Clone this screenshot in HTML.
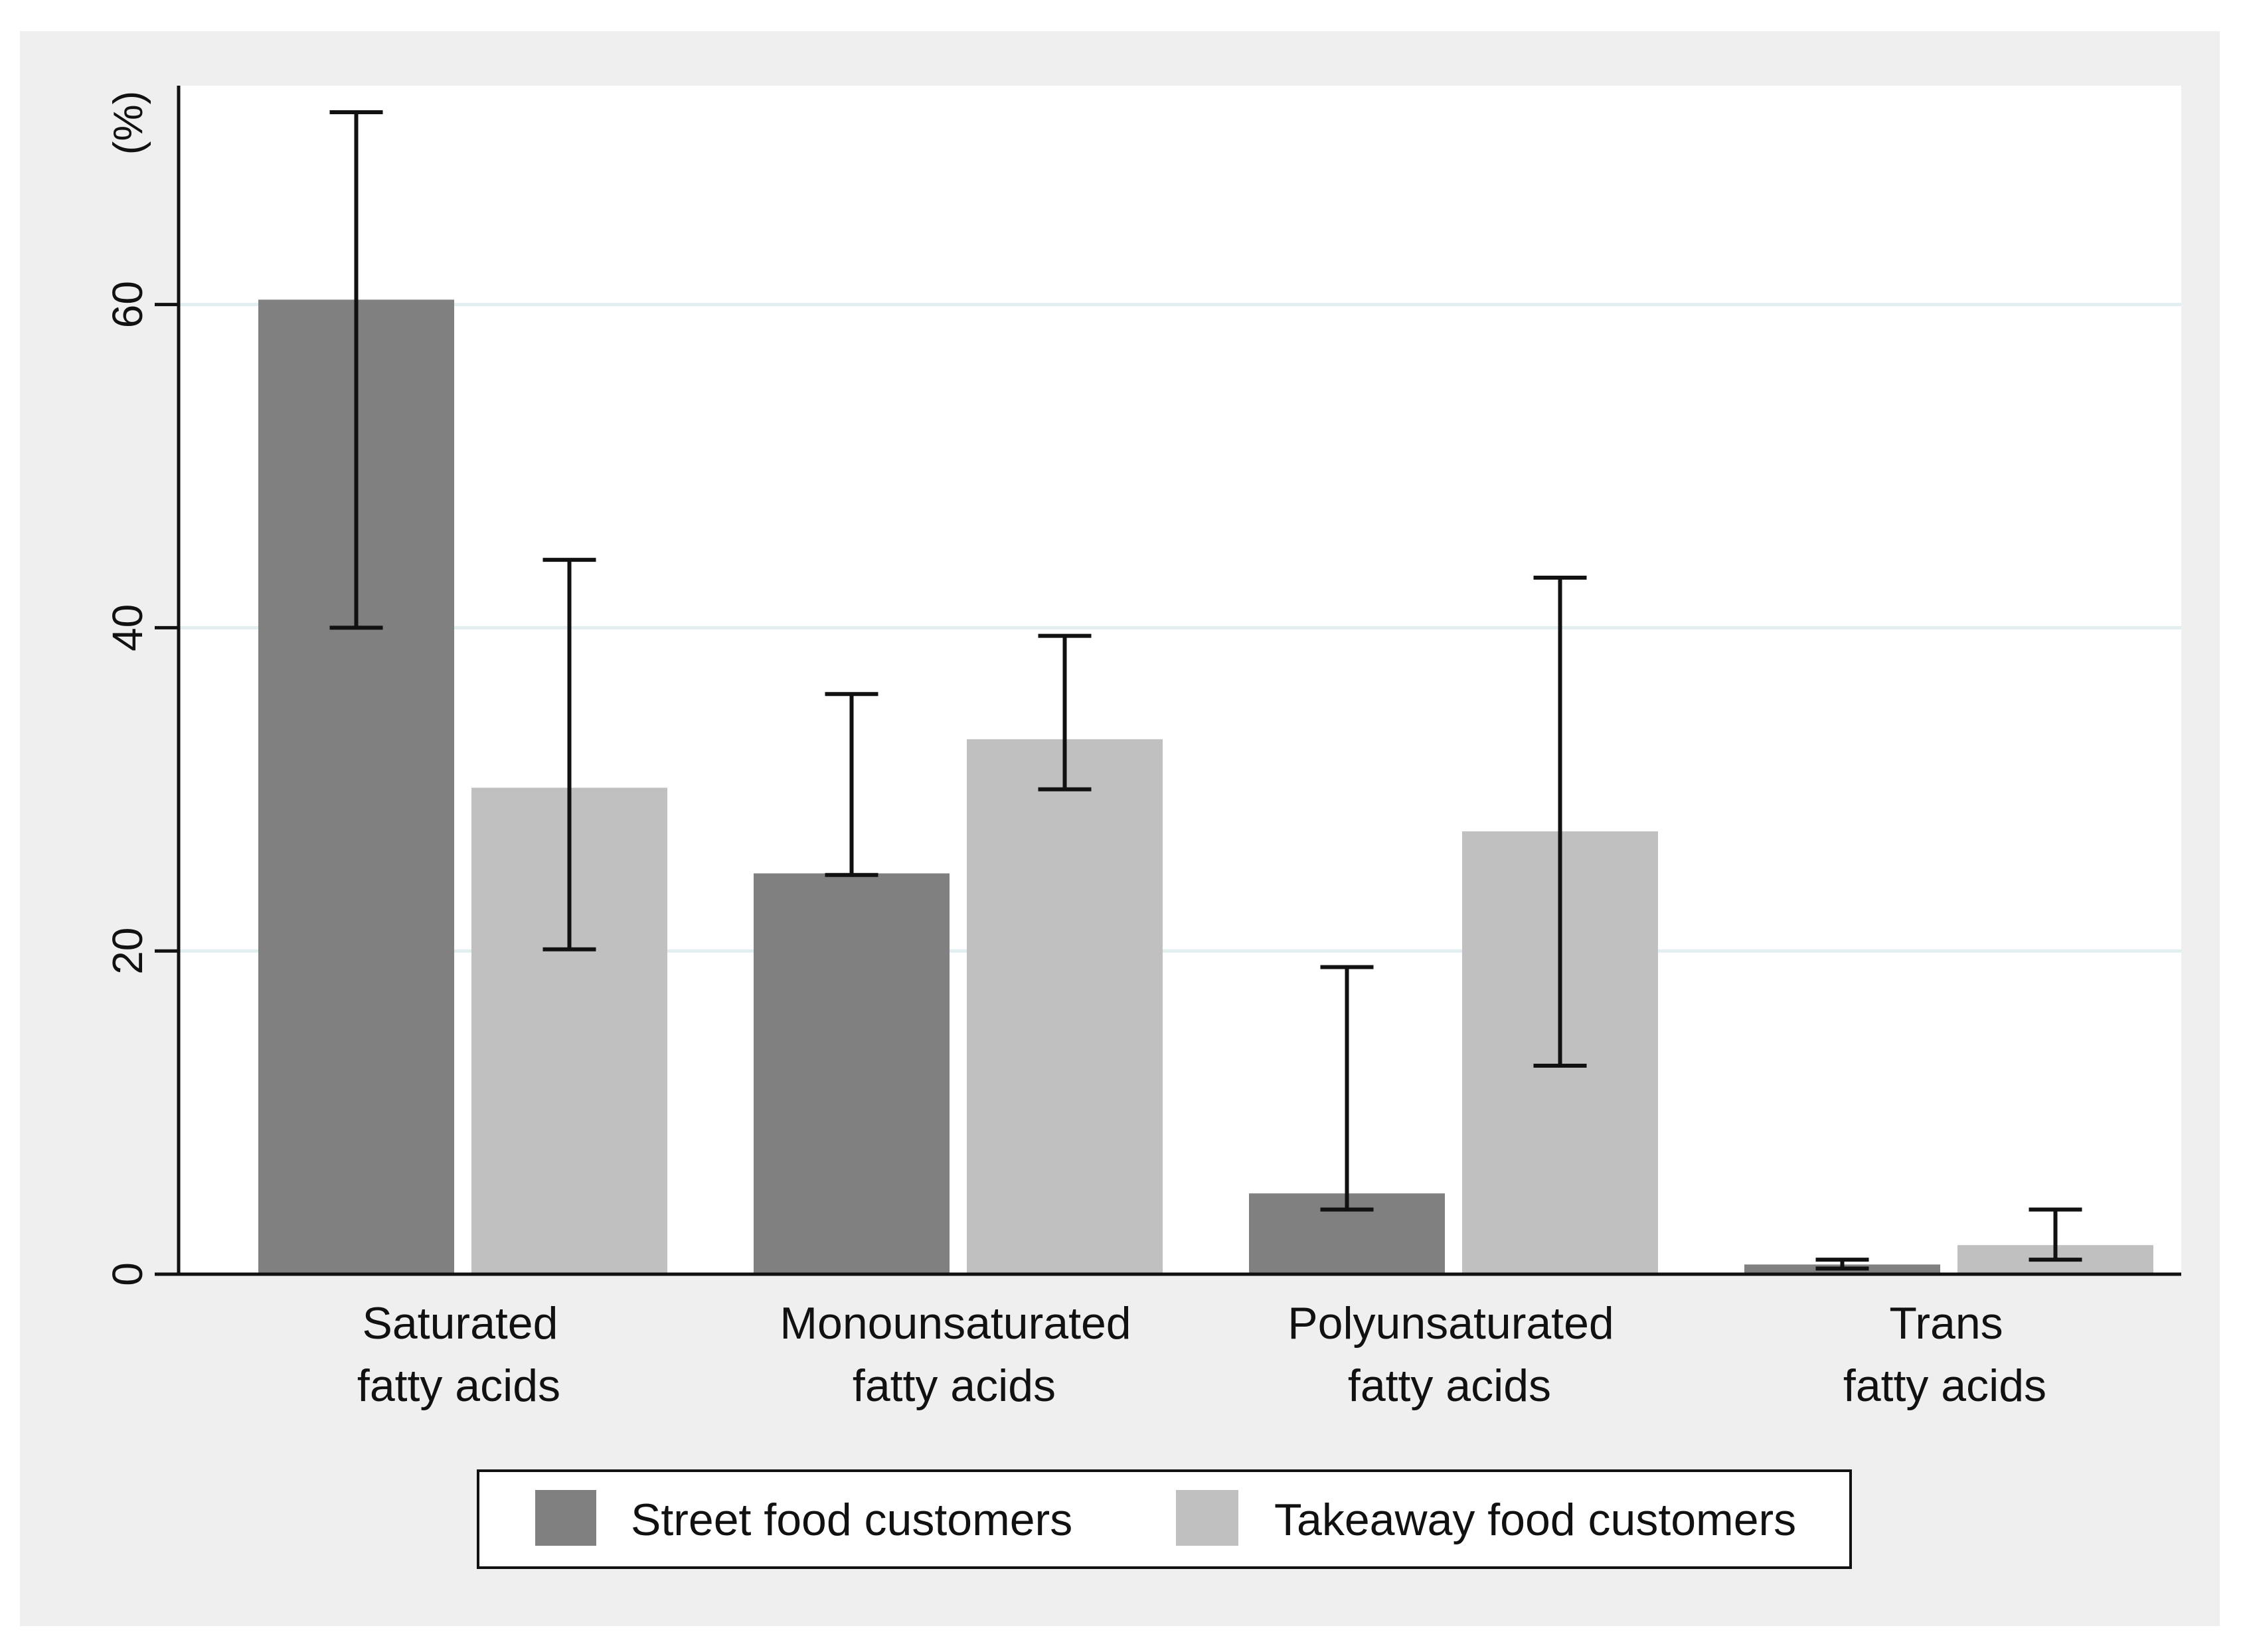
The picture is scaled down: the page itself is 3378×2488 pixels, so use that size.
<!DOCTYPE html>
<html><head><meta charset="utf-8"><style>
html,body{margin:0;padding:0;background:#fff;}
svg{display:block;font-family:"Liberation Sans",Arial,sans-serif;}
</style></head><body>
<svg id="chart" width="3378" height="2488" viewBox="0 0 3378 2488" xmlns="http://www.w3.org/2000/svg">
<rect x="0" y="0" width="3378" height="2488" fill="#ffffff"/>
<rect x="30" y="47" width="3313" height="2402" fill="#efefef"/>
<rect x="269" y="129" width="3016" height="1790" fill="#ffffff"/>
<g id="grid"></g>
<g id="bars"></g>
<g id="errs"></g>
<g id="axes"></g>
<g id="xlabels"></g>
<text transform="translate(214,185) rotate(-90)" text-anchor="middle" font-size="62" fill="#111">(%)</text>
<g>
<rect x="720" y="2215" width="2067" height="146" fill="#fff" stroke="#111" stroke-width="4"/>
<rect x="806" y="2244" width="92" height="84" fill="#808080"/>
<text x="950" y="2312" font-size="68" fill="#111">Street food customers</text>
<rect x="1771" y="2244" width="94" height="84" fill="#c0c0c0"/>
<text x="1919" y="2312" font-size="68" fill="#111">Takeaway food customers</text>
</g>
</svg>
<script>
const categories = [["Saturated","fatty acids"],["Monounsaturated","fatty acids"],["Polyunsaturated","fatty acids"],["Trans","fatty acids"]];
const streetValues = [60.3, 24.8, 5.0, 0.6];
const takeawayValues = [30.1, 33.1, 27.4, 1.8];
const streetLow = [40.0, 24.7, 4.0, 0.35];
const streetHigh = [71.9, 35.9, 19.0, 0.9];
const takeawayLow = [20.1, 30.0, 12.9, 0.9];
const takeawayHigh = [44.2, 39.5, 43.1, 4.0];
const yTicks = [0, 20, 40, 60];

const NS = "http://www.w3.org/2000/svg";
const y0 = 1919, perUnit = 24.34;
function yScale(v){ return y0 - v*perUnit; }
function groupCenter(i){ return 697 + i*746; }
const barW = 295, gap = 26;
function mk(tag, attrs, parent){ const e=document.createElementNS(NS,tag); for(const k in attrs) e.setAttribute(k,attrs[k]); parent.appendChild(e); return e; }
const grid=document.getElementById('grid'), bars=document.getElementById('bars'), errs=document.getElementById('errs'), axes=document.getElementById('axes'), xl=document.getElementById('xlabels');

yTicks.forEach(t=>{
  const y=yScale(t);
  if(t>0){
    const g=mk('line',{x1:269,x2:3285,y1:y,y2:y,stroke:'#e3eef0','stroke-width':5},grid);
    
    
  }
  const tk=mk('line',{x1:233,x2:269,y1:y,y2:y,stroke:'#111','stroke-width':5},axes);
  
  
  const lb=mk('text',{transform:`translate(214,${y}) rotate(-90)`,'text-anchor':'middle','font-size':64,fill:'#111'},axes);
  lb.textContent=t;
  
  
});
const ya=mk('line',{x1:269,x2:269,y1:129,y2:1921,stroke:'#111','stroke-width':5},axes);


const xa=mk('line',{x1:267,x2:3285,y1:1919,y2:1919,stroke:'#111','stroke-width':5},axes);



function errBar(cx, lo, hi, name){
  const g=mk('g',{stroke:'#111','stroke-width':6},errs);
  
  
  mk('line',{x1:cx,x2:cx,y1:yScale(lo),y2:yScale(hi)},g);
  mk('line',{x1:cx-40,x2:cx+40,y1:yScale(lo),y2:yScale(lo)},g);
  mk('line',{x1:cx-40,x2:cx+40,y1:yScale(hi),y2:yScale(hi)},g);
}
categories.forEach((c,i)=>{
  const gc=groupCenter(i);
  const sx=gc-gap/2-barW, tx=gc+gap/2;
  const b1=mk('rect',{x:sx,y:yScale(streetValues[i]),width:barW,height:streetValues[i]*perUnit,fill:'#808080'},bars);
  
  
  const b2=mk('rect',{x:tx,y:yScale(takeawayValues[i]),width:barW,height:takeawayValues[i]*perUnit,fill:'#c0c0c0'},bars);
  
  
  errBar(sx+barW/2, streetLow[i], streetHigh[i], 'error-bar-street-'+(i+1));
  errBar(tx+barW/2, takeawayLow[i], takeawayHigh[i], 'error-bar-takeaway-'+(i+1));
  const t=mk('text',{x:gc,'text-anchor':'middle','font-size':68,fill:'#111'},xl);
  
  
  const s1=mk('tspan',{x:gc-4,y:2016},t); s1.textContent=c[0];
  const s2=mk('tspan',{x:gc-6,y:2110},t); s2.textContent=c[1];
});
</script>
</body></html>
